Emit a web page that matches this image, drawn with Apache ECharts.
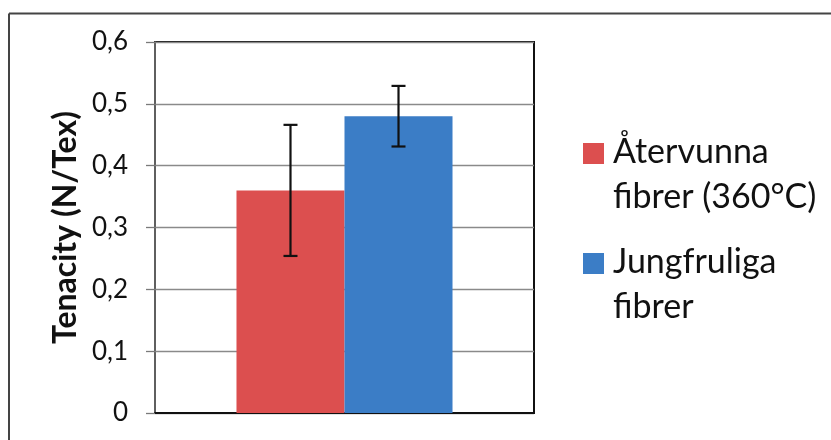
<!DOCTYPE html>
<html>
<head>
<meta charset="utf-8">
<script src="https://cdn.jsdelivr.net/npm/echarts@6/dist/echarts.min.js"></script>
<style>
  html, body { margin: 0; padding: 0; background: #fff; }
  #chart { width: 831px; height: 440px; }
</style>
</head>
<body>
<div id="chart"></div>
<script>
// Tenacity of recycled vs. virgin fibres, with error bars
const categories = [''];
const seriesNames = ['Återvunna\nfibrer (360°C)', 'Jungfruliga\nfibrer'];
const seriesColors = ['#dc4f4f', '#3b7dc6'];
const recycledValues = [0.36];
const virginValues = [0.48];
// error half-widths
const recycledErrors = [0.106];
const virginErrors = [0.049];
const yTicks = { min: 0, max: 0.6, interval: 0.1 };
const yTitle = 'Tenacity (N/Tex)';

const barCategoryGap = 0.43;
const values = [recycledValues, virginValues];
const errors = [recycledErrors, virginErrors];

// error bar data: [category index, series index, low, high]
const errorData = [];
values.forEach((vals, s) => {
  vals.forEach((v, i) => {
    errorData.push([i, s, v - errors[s][i], v + errors[s][i]]);
  });
});

function renderError(params, api) {
  const cat = api.value(0);
  const s = api.value(1);
  const lo = api.coord([cat, api.value(2)]);
  const hi = api.coord([cat, api.value(3)]);
  const bandW = api.size([1, 0])[0];
  const barW = bandW * (1 - barCategoryGap) / values.length;
  const x = lo[0] - bandW * (1 - barCategoryGap) / 2 + barW * (s + 0.5);
  const cap = 7;
  const style = { stroke: '#111', lineWidth: 2.2 };
  return {
    type: 'group',
    children: [
      { type: 'line', shape: { x1: x, y1: lo[1], x2: x, y2: hi[1] }, style },
      { type: 'line', shape: { x1: x - cap, y1: lo[1], x2: x + cap, y2: lo[1] }, style },
      { type: 'line', shape: { x1: x - cap, y1: hi[1], x2: x + cap, y2: hi[1] }, style }
    ]
  };
}

// legend entries drawn as swatch + two-line label
const legendGraphics = [];
seriesNames.forEach((name, i) => {
  const top = 130 + i * 110;
  legendGraphics.push({
    type: 'rect', left: 583, top: top + 13, z: 10,
    shape: { width: 21, height: 21 },
    style: { fill: seriesColors[i] }
  });
  legendGraphics.push({
    type: 'text', left: 613, top: top, z: 10,
    style: {
      text: name, fill: '#111',
      font: '34px Lato, "Open Sans", sans-serif',
      lineHeight: 45
    }
  });
});

const chart = echarts.init(document.getElementById('chart'), null, { renderer: 'canvas' });
chart.setOption({
  animation: false,
  backgroundColor: '#fff',
  textStyle: { fontFamily: 'Lato, "Open Sans", sans-serif' },
  grid: {
    left: 155, top: 42, right: 297, bottom: 27,
    show: true, borderColor: '#111', borderWidth: 2, backgroundColor: 'transparent'
  },
  xAxis: {
    type: 'category',
    data: categories,
    axisLine: { lineStyle: { color: '#111', width: 2 } },
    axisTick: { show: false },
    axisLabel: { show: false },
    splitLine: { show: false }
  },
  yAxis: {
    type: 'value',
    min: yTicks.min, max: yTicks.max, interval: yTicks.interval,
    name: yTitle,
    nameLocation: 'middle',
    nameGap: 73,
    nameRotate: 90,
    nameTextStyle: { fontSize: 32, fontWeight: 'bold', color: '#111' },
    axisLine: { show: true, lineStyle: { color: '#7a7a7a', width: 1.5 } },
    axisTick: { show: true, length: 9, lineStyle: { color: '#7a7a7a', width: 1.3 } },
    axisLabel: {
      margin: 27, fontSize: 26, color: '#111',
      formatter: v => (Math.round(v * 10) / 10).toString().replace('.', ',')
    },
    splitLine: { lineStyle: { color: '#8a8a8a', width: 1.3 } }
  },
  series: [
    {
      type: 'bar', name: seriesNames[0], data: recycledValues,
      itemStyle: { color: seriesColors[0] },
      barGap: '0%', barCategoryGap: (barCategoryGap * 100) + '%'
    },
    {
      type: 'bar', name: seriesNames[1], data: virginValues,
      itemStyle: { color: seriesColors[1] },
      barGap: '0%', barCategoryGap: (barCategoryGap * 100) + '%'
    },
    {
      type: 'custom', name: 'error', data: errorData,
      renderItem: renderError, z: 5,
      encode: { x: 0, y: [2, 3] }
    }
  ],
  graphic: [
    // outer chart frame (top and left edges)
    { type: 'line', shape: { x1: 9, y1: 13.5, x2: 831, y2: 13.5 }, style: { stroke: '#444', lineWidth: 2 } },
    { type: 'line', shape: { x1: 9, y1: 13.5, x2: 9, y2: 440 }, style: { stroke: '#444', lineWidth: 2 } }
  ].concat(legendGraphics)
});
</script>
</body>
</html>
